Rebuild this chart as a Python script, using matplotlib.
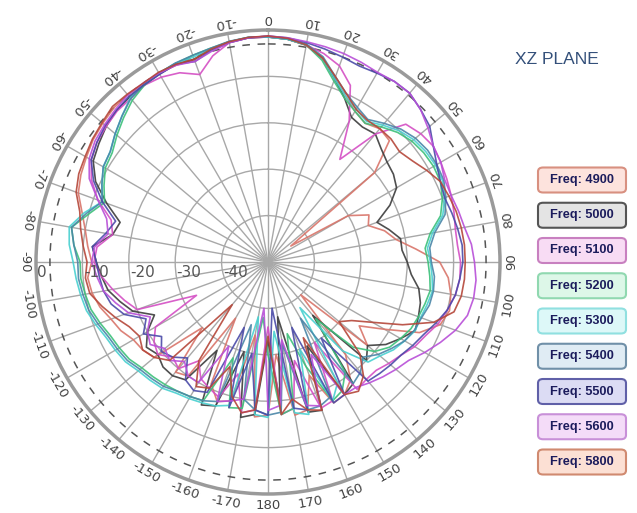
import numpy as np
import matplotlib
matplotlib.use("Agg")
import matplotlib.pyplot as plt
from matplotlib.patches import FancyBboxPatch

# angles in degrees, clockwise from top, 5 deg step
angles_deg = np.arange(0, 360, 5)

freq_4900 = [-1.5, -1.8, -2.6, -4.6, -8, -10.5, -12.5, -13.5, -12.5, -13, -20, -44,
             -30, -26, -27, -24, -22, -18, -13, -11, -10, -9.5, -10.5, -14,
             -21, -26, -22, -40, -24, -19, -17, -16.5, -24, -17, -16.5, -30,
             -17, -16.5, -34, -19, -18, -21, -36, -20, -19, -30, -18, -17,
             -16.5, -15, -14, -12.5, -11.5, -11, -12, -11, -10, -8.5, -6.5, -5.5,
             -4.8, -4, -3.5, -3, -3, -3.2, -3, -3.2, -3.6, -2.6, -1.9, -1.5]
freq_5000 = [-1.5, -1.8, -2.5, -4.5, -8, -11, -14, -14.5, -14, -15.5, -16.5, -17,
             -18, -21, -25, -23, -21, -21, -20, -19, -17, -16, -15.5, -15,
             -17, -19, -22, -20, -35, -18, -17, -30, -16, -16.5, -38, -20,
             -33, -17, -16, -30, -17, -16, -28, -19, -18, -18, -19, -18,
             -20, -23, -19, -17, -15, -14, -13, -12, -16, -17, -13, -9,
             -6.5, -5.5, -4.5, -3.8, -3.6, -3.5, -3.2, -3, -3.5, -2.5, -1.8, -1.5]
freq_5100 = [-1.5, -1.8, -2.5, -3.5, -5, -8, -15, -23, -14, -8, -7, -6.5,
             -7, -7.5, -8, -8.5, -9, -9, -8.5, -8.5, -9, -10, -11, -12.5,
             -13.5, -15, -16, -17, -17, -16.5, -30, -17, -16.5, -28, -18, -17,
             -36, -18, -17, -25, -19, -20, -21, -24, -20, -21, -19, -20,
             -22, -33, -20, -18, -16, -14, -12.5, -13, -16, -15, -11, -8,
             -6, -5, -4.5, -4, -4, -3.5, -4, -5, -7, -4, -2, -1.5]
freq_5200 = [-1.5, -1.8, -2.5, -5, -8.5, -11, -12.5, -13.5, -12, -10.5, -9.5, -9,
             -8.8, -9, -10, -11.5, -14.5, -16, -15.5, -15, -14.5, -15, -15.5, -16,
             -17, -18, -20, -24, -34, -21, -18, -17, -26, -34, -18, -17,
             -30, -38, -18, -17.5, -28, -17, -16.5, -16, -15.5, -15, -14.5, -13.5,
             -13, -12.5, -11.5, -10.5, -10, -9.5, -9.5, -8, -7, -10, -12.5, -11,
             -9.5, -9, -7.5, -6, -4.5, -3.5, -3, -2.8, -2.6, -2.3, -1.8, -1.4]
freq_5300 = [-1.5, -1.8, -2.5, -4.5, -8, -10.5, -12, -13, -11.5, -10, -9, -8.5,
             -8.3, -8.5, -9.5, -11, -14, -15.5, -15, -14.5, -14, -14.5, -15, -15,
             -16, -17, -18.5, -19.5, -25, -38, -20, -17, -30, -16, -17, -35,
             -16.5, -17, -38, -18, -17, -16.5, -16, -15.5, -14.5, -14, -13.5, -12.5,
             -12, -11.5, -10.5, -9.5, -9, -8.5, -8, -7, -6.5, -9, -12, -10.5,
             -9, -8.5, -7, -5.5, -3.8, -3.2, -3, -2.8, -3, -2.5, -1.8, -1.4]
freq_5400 = [-1.4, -1.7, -2.3, -4.2, -7.5, -10, -11.5, -12.5, -11, -9.5, -8.5, -8,
             -8, -8.2, -9.2, -10.5, -13.5, -15, -14.8, -14, -13.8, -14, -14.8, -15.2,
             -16, -17.5, -19, -21, -19, -18, -36, -18, -17, -17, -32, -17.5,
             -17, -18, -20, -36, -18, -17, -16.5, -16, -15, -14.5, -14, -13,
             -12.5, -12, -11, -10, -9.5, -9, -9, -8, -7, -9.5, -12, -10.5,
             -9, -8.5, -7, -5.5, -4, -3.3, -3, -2.7, -2.6, -2.3, -1.7, -1.4]
freq_5500 = [-1.3, -1.5, -2, -2.5, -3, -3.4, -3, -2.5, -2.5, -3.5, -4.5, -6.5,
             -8, -9, -9.5, -9, -8.5, -8, -8, -8.5, -9, -10, -11.5, -13,
             -14, -15, -15.5, -16, -16.5, -30, -17, -16.5, -35, -17, -18, -40,
             -17, -18, -30, -17.5, -35, -19, -18, -19, -23, -21, -20, -22,
             -19, -21, -17, -15, -14, -13.5, -13, -12, -14.5, -16, -12, -8.5,
             -6, -5, -4.2, -3.8, -3.4, -3.4, -3.3, -3, -4, -2.8, -2, -1.5]
freq_5600 = [-1.3, -1.5, -1.8, -2, -2.2, -2.5, -2.8, -2.5, -2.5, -3.5, -5, -6.5,
             -7, -8, -8, -7.5, -7, -6, -5.5, -5, -5, -5.5, -7, -9,
             -11, -13, -14, -15, -16, -17, -17, -28, -17, -18, -33, -19,
             -18, -40, -20, -19, -18, -30, -20, -20, -22, -20, -21, -19,
             -20, -22, -18, -16, -14, -13, -12, -12.5, -15, -14, -11, -7.5,
             -5.5, -4.5, -4, -3.5, -3, -3, -3, -3.2, -4, -3, -2, -1.5]
freq_5800 = [-1.3, -1.6, -2.5, -4.5, -7.5, -10, -12, -12.7, -12.5, -12.5, -13, -12,
             -10.5, -9, -8.5, -8, -7.7, -7.5, -7.5, -7.5, -7.7, -8.5, -12, -18,
             -24, -28, -30, -22, -18, -16, -17, -32, -16, -17, -20, -17,
             -34, -18, -17, -20, -26, -20, -19, -24, -38, -20, -18, -17,
             -18, -17, -15, -13, -11, -10.5, -11, -10, -9, -8, -6, -5,
             -4.5, -3.8, -3.3, -2.6, -2.8, -3, -2.8, -3, -3.5, -2.5, -1.8, -1.4]

series = [freq_4900, freq_5000, freq_5100, freq_5200, freq_5300,
          freq_5400, freq_5500, freq_5600, freq_5800]
legend_labels = ["Freq: 4900", "Freq: 5000", "Freq: 5100", "Freq: 5200", "Freq: 5300",
                 "Freq: 5400", "Freq: 5500", "Freq: 5600", "Freq: 5800"]
line_colors = ["#d9756a", "#3c3c3c", "#d44fc4", "#3cc07a", "#48d0d0",
               "#4a86a8", "#4a4aa8", "#b84fd8", "#b5473a"]
box_fill = ["#fde3dd", "#e4e4e4", "#f8dcf4", "#ddf7e8", "#ddf8f8",
            "#e0ecf4", "#dcdcf4", "#f4dcf8", "#fce0d4"]
box_edge = ["#d89080", "#555555", "#c880c0", "#90d8b0", "#90e0e0",
            "#7090a8", "#6060a8", "#c890d8", "#d08a70"]

ring_values = [-40, -30, -20, -10]
ring_labels = ["0", "-10", "-20", "-30", "-40"]
ring_label_pos = [0, -10, -20, -30, -40]

W, H = 637, 513
fig = plt.figure(figsize=(W / 100, H / 100), dpi=100)
fig.patch.set_facecolor("white")

cx, cy, R = 268, 262, 232
ax = fig.add_axes([(cx - R) / W, (H - cy - R) / H, 2 * R / W, 2 * R / H], projection="polar")
ax.set_theta_zero_location("N")
ax.set_theta_direction(-1)
ax.set_ylim(-50, 0)
ax.set_rticks(ring_values)
ax.set_yticklabels([])
ax.set_xticks(np.deg2rad(np.arange(0, 360, 10)))
ax.set_xticklabels([])
ax.grid(color="#a8a8a8", lw=1.0)
ax.spines["polar"].set_color("#9a9a9a")
ax.spines["polar"].set_linewidth(2.5)

# dashed -3 dB circle
circ = np.linspace(0, 2 * np.pi, 400)
ax.plot(circ, np.full_like(circ, -3), color="#555555", lw=1.1, ls=(0, (5, 5)))

for vals, col in zip(series, line_colors):
    th = np.deg2rad(np.append(angles_deg, 360))
    r = np.append(vals, vals[0])
    ax.plot(th, r, color=col, lw=1.2, alpha=0.9)

# radial labels along the -90 direction
for lbl, rv in zip(ring_labels, ring_label_pos):
    ax.annotate(lbl, xy=(np.deg2rad(270), rv), xytext=(1, -2), textcoords="offset points",
                ha="left", va="top", fontsize=11, color="#555555")

# angle labels round the rim, text top pointing to centre
for a in range(0, 360, 10):
    lbl = str(a) if a <= 180 else str(a - 360)
    ax.text(np.deg2rad(a), 2.5, lbl, rotation=180 - a, rotation_mode="anchor",
            ha="center", va="center", fontsize=9.5, color="#444444", clip_on=False)

fig.text(557 / W, 1 - 60 / H, "XZ PLANE", ha="center", va="center", fontsize=12.5,
         color="#34507a", family=["Liberation Sans", "DejaVu Sans"])

# legend boxes
bx, bw, bh = 538, 88, 25
for i, lbl in enumerate(legend_labels):
    yc = 180 + 35.25 * i
    patch = FancyBboxPatch((bx / W, 1 - (yc + bh / 2) / H), bw / W, bh / H,
                           boxstyle="round,pad=0,rounding_size=0.008",
                           transform=fig.transFigure, facecolor=box_fill[i],
                           edgecolor=box_edge[i], lw=1.5)
    fig.patches.append(patch)
    fig.text((bx + bw / 2) / W, 1 - yc / H, lbl, ha="center", va="center",
             fontsize=9.2, fontweight="bold", color="#1c1c5c",
             family=["Liberation Sans", "DejaVu Sans"])

fig.savefig("out.png", dpi=100)
